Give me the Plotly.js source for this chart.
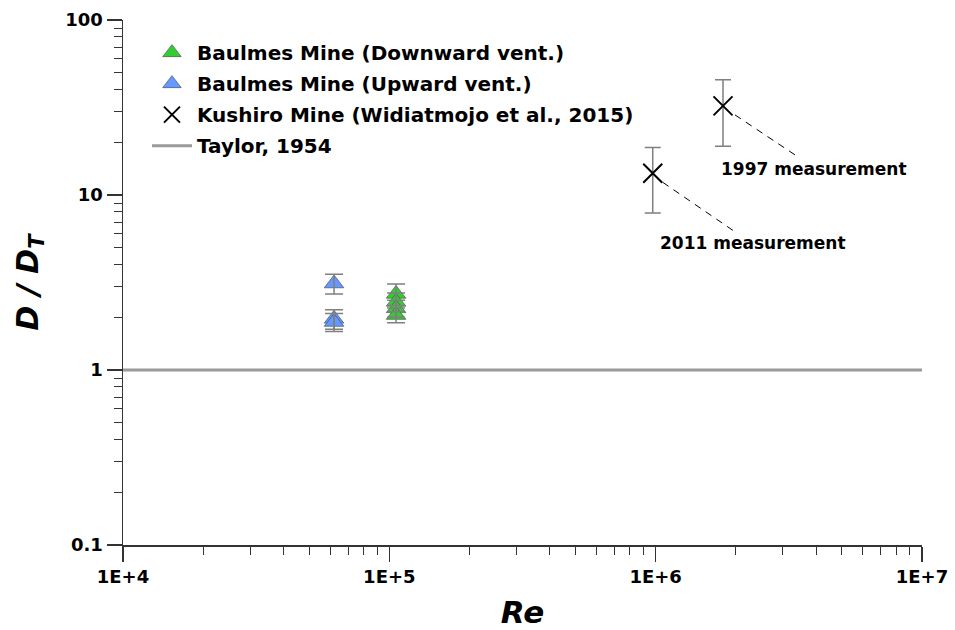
<!DOCTYPE html>
<html><head><meta charset="utf-8">
<script src="https://cdn.plot.ly/plotly-3.0.1.min.js"></script>
<style>html,body{margin:0;padding:0;background:#fff}#chart{width:955px;height:630px}</style>
</head><body><div id="chart"></div>
<script>
// Baulmes Mine (Downward vent.)
const downRe = [1.06e5, 1.06e5, 1.06e5, 1.06e5];
const downD = [2.72, 2.45, 2.25, 2.06];
const downErr = [0.38, 0.30, 0.25, 0.20];
// Baulmes Mine (Upward vent.)
const upRe = [6.2e4, 6.2e4, 6.2e4];
const upD = [3.12, 1.96, 1.88];
const upErr = [0.40, 0.25, 0.22];
// Kushiro Mine (Widiatmojo et al., 2015)
const kuRe = [9.75e5, 1.79e6];
const kuD = [13.3, 32.3];
const kuErr = [5.4, 13.3];
const kuLabels = ['2011 measurement', '1997 measurement'];
// Taylor, 1954
const taylorRe = [1e4, 1e7];
const taylorD = [1, 1];
// axes
const xRange = [1e4, 1e7];
const yRange = [0.1, 100];
const xTickVals = [1e4, 1e5, 1e6, 1e7];
const xTickText = ['1E+4', '1E+5', '1E+6', '1E+7'];
const yTickVals = [0.1, 1, 10, 100];
const yTickText = ['0.1', '1', '10', '100'];
const seriesNames = ['Baulmes Mine (Downward vent.)', 'Baulmes Mine (Upward vent.)',
  'Kushiro Mine (Widiatmojo et al., 2015)', 'Taylor, 1954'];

const FONT = 'DejaVu Sans, Verdana, sans-serif';
const ERRC = '#7f7f7f';
const yLogRange = yRange.map(Math.log10);
const xLogRange = xRange.map(Math.log10);

const traces = [
  {x: downRe, y: downD, name: seriesNames[0], legendgroup: 'g1', mode: 'markers', type: 'scatter',
   marker: {symbol: 'triangle-up', size: 17, color: '#33cc33', line: {color: 'rgba(70,90,70,0.7)', width: 1}}},
  {x: upRe, y: upD, name: seriesNames[1], legendgroup: 'g2', mode: 'markers', type: 'scatter',
   marker: {symbol: 'triangle-up', size: 17, color: '#6699ff', line: {color: 'rgba(70,80,100,0.7)', width: 1}}},
  {x: kuRe, y: kuD, name: seriesNames[2], legendgroup: 'g3', mode: 'markers', type: 'scatter',
   marker: {symbol: 'x-thin-open', size: 19, color: '#000', line: {color: '#000', width: 2}},
   error_y: {type: 'data', array: kuErr, visible: true, color: ERRC, thickness: 1.5, width: 8}},
  {x: taylorRe, y: taylorD, name: seriesNames[3], legendgroup: 'g4', mode: 'lines', type: 'scatter',
   line: {color: '#9a9a9a', width: 3}},
  // error bars drawn over the triangles
  {x: downRe, y: downD, showlegend: false, mode: 'markers', type: 'scatter', hoverinfo: 'skip',
   marker: {size: 1, opacity: 0}, error_y: {type: 'data', array: downErr, visible: true, color: ERRC, thickness: 1.5, width: 9}},
  {x: upRe, y: upD, showlegend: false, mode: 'markers', type: 'scatter', hoverinfo: 'skip',
   marker: {size: 1, opacity: 0}, error_y: {type: 'data', array: upErr, visible: true, color: ERRC, thickness: 1.5, width: 9}}
];

// leader-line / label offsets in pixels from each Kushiro point (y positive = down)
const leader = [
  {lx0: 10, ly0: 9, lx1: 83, ly1: 59, tx: 100, ty: 70},
  {lx0: 12, ly0: 9, lx1: 72, ly1: 49, tx: 91, ty: 63}
];
const shapes = [], annotations = [];
kuRe.forEach((re, i) => {
  const o = leader[i];
  // y anchor as a fraction of the plot height, derived from the data value on the log axis
  const yFrac = (Math.log10(kuD[i]) - yLogRange[0]) / (yLogRange[1] - yLogRange[0]);
  shapes.push({type: 'line', xref: 'x', yref: 'paper', xsizemode: 'pixel', ysizemode: 'pixel',
    xanchor: re, yanchor: yFrac,
    x0: o.lx0, x1: o.lx1, y0: -o.ly0, y1: -o.ly1,
    line: {color: '#000', width: 1, dash: '7px,6px'}});
  annotations.push({xref: 'x', yref: 'y', x: Math.log10(re), y: Math.log10(kuD[i]),
    xshift: o.tx, yshift: -o.ty, showarrow: false, text: kuLabels[i],
    font: {family: FONT, size: 17, color: '#000', weight: 'bold'}});
});

const axisCommon = {
  type: 'log', showgrid: false, zeroline: false, showline: true, linecolor: '#333', linewidth: 1.5,
  ticks: 'outside', ticklen: 15, tickwidth: 1.5, tickcolor: '#333', tickmode: 'array',
  tickfont: {family: FONT, size: 18, color: '#000', weight: 'bold'},
  minor: {ticks: 'outside', ticklen: 8, tickwidth: 1, tickcolor: '#333', dtick: 'D1', showgrid: false}
};

const layout = {
  width: 955, height: 630, paper_bgcolor: '#fff', plot_bgcolor: '#fff',
  margin: {l: 123, r: 33, t: 20, b: 85},
  showlegend: true,
  legend: {x: 0.03, y: 0.975, xanchor: 'left', yanchor: 'top', bgcolor: 'rgba(0,0,0,0)',
    itemwidth: 40, tracegroupgap: 2, font: {family: FONT, size: 20, color: '#000', weight: 'bold'}},
  xaxis: Object.assign({}, axisCommon, {range: xLogRange, tickvals: xTickVals, ticktext: xTickText,
    title: {text: 'Re', standoff: 17, font: {family: FONT, size: 31, color: '#000', weight: 'bold', style: 'italic'}}}),
  yaxis: Object.assign({}, axisCommon, {range: yLogRange, tickvals: yTickVals, ticktext: yTickText,
    title: {text: 'D / D<sub>T</sub>', standoff: 18, font: {family: FONT, size: 30, color: '#000', weight: 'bold', style: 'italic'}}}),
  shapes: shapes, annotations: annotations
};

Plotly.newPlot('chart', traces, layout, {displayModeBar: false, staticPlot: true});
</script></body></html>
